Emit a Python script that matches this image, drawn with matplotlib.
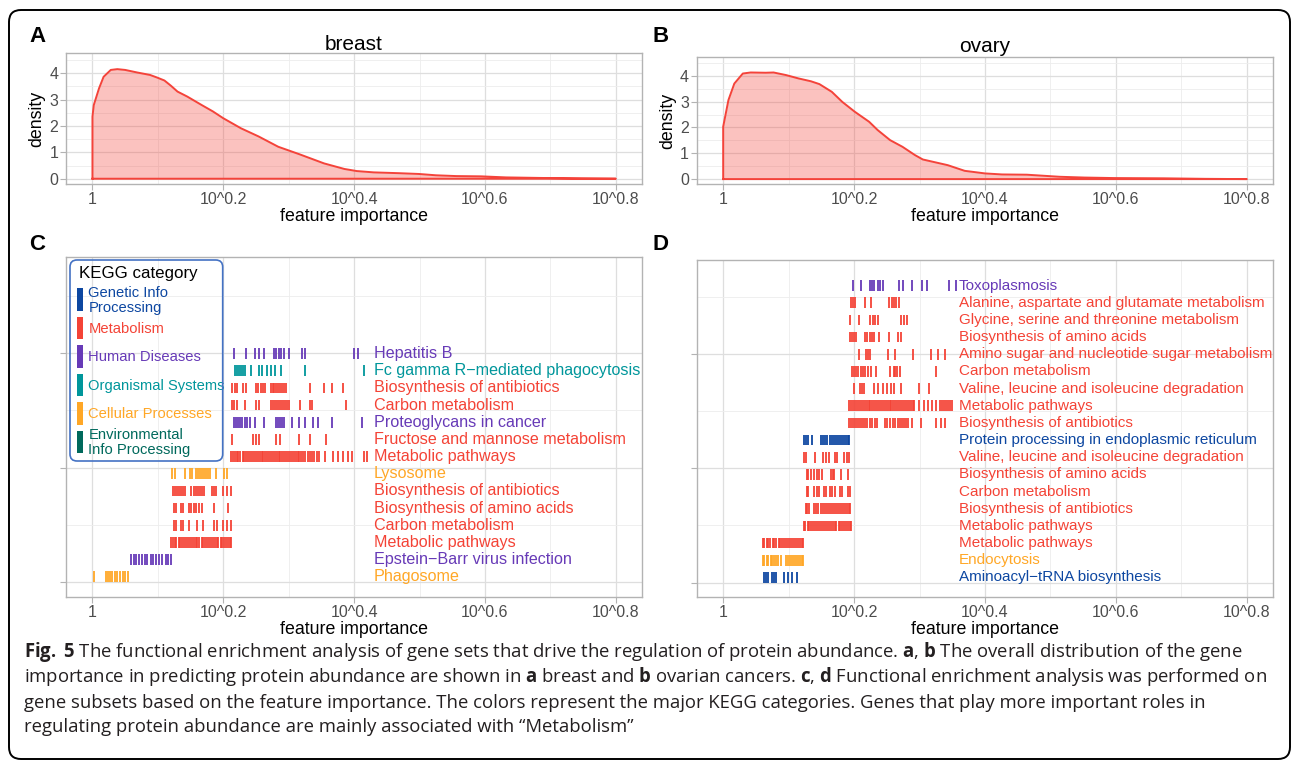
import numpy as np
import matplotlib
matplotlib.use("Agg")
import matplotlib.pyplot as plt
from matplotlib import font_manager as fm
from matplotlib.patches import FancyBboxPatch, Rectangle
from matplotlib.transforms import IdentityTransform
from matplotlib.ticker import FixedLocator, NullFormatter

W, H, DPI = 1295, 764, 100


def _weight_num(w):
    if isinstance(w, (int, float)):
        return int(w)
    return {"ultralight": 200, "light": 300, "normal": 400, "regular": 400, "book": 400,
            "medium": 500, "roman": 400, "semibold": 600, "demibold": 600, "demi": 600,
            "bold": 700, "heavy": 800, "extra bold": 800, "black": 900}.get(str(w).lower(), 400)


def _has(name, bold):
    for f in fm.fontManager.ttflist:
        if f.name == name:
            wn = _weight_num(f.weight)
            if (bold and wn >= 600) or (not bold and 350 <= wn <= 500):
                return True
    return False


def pick(cands):
    for c in cands:
        if _has(c, False) and _has(c, True):
            return c
    return "DejaVu Sans"


PLOT_FONT = pick(["Liberation Sans", "Arimo", "DejaVu Sans"])
CAP_FONT = pick(["Noto Sans", "Open Sans", "Lato", "Roboto", "Liberation Sans", "DejaVu Sans"])

plt.rcParams["font.family"] = [PLOT_FONT, "DejaVu Sans"]
plt.rcParams["mathtext.fontset"] = "custom"
plt.rcParams["mathtext.rm"] = CAP_FONT
plt.rcParams["mathtext.bf"] = CAP_FONT + ":bold"
plt.rcParams["mathtext.it"] = CAP_FONT + ":italic"

# ---------------- data (x values are log10 of feature importance) ----------------
x_major = [0.0, 0.2, 0.4, 0.6, 0.8]
x_minor = [0.1, 0.3, 0.5, 0.7]
x_tick_labels = ["1", "10^0.2", "10^0.4", "10^0.6", "10^0.8"]

breast_log = [0.000, 0.002, 0.010, 0.017, 0.028, 0.038, 0.050, 0.069, 0.088, 0.099, 0.110, 0.120,
              0.130, 0.145, 0.167, 0.184, 0.200, 0.227, 0.254, 0.284, 0.316, 0.354, 0.385, 0.404,
              0.430, 0.468, 0.499, 0.525, 0.556, 0.594, 0.632, 0.683, 0.747, 0.800]
breast_density = [2.35, 2.79, 3.42, 3.86, 4.12, 4.15, 4.12, 4.02, 3.93, 3.83, 3.72, 3.52,
                  3.30, 3.11, 2.79, 2.55, 2.29, 1.91, 1.60, 1.21, 0.93, 0.58, 0.37, 0.29,
                  0.24, 0.21, 0.18, 0.13, 0.10, 0.09, 0.05, 0.03, 0.01, 0.00]

ovary_log = [0.000, 0.008, 0.017, 0.030, 0.042, 0.065, 0.077, 0.096, 0.115, 0.134, 0.147, 0.166,
             0.182, 0.201, 0.223, 0.236, 0.255, 0.274, 0.293, 0.305, 0.324, 0.343, 0.369, 0.400,
             0.426, 0.464, 0.489, 0.514, 0.552, 0.597, 0.673, 0.736, 0.800]
ovary_density = [2.03, 3.06, 3.70, 4.09, 4.13, 4.12, 4.13, 4.03, 3.90, 3.79, 3.68, 3.38,
                 2.99, 2.61, 2.22, 1.90, 1.51, 1.25, 0.93, 0.76, 0.65, 0.54, 0.32, 0.22,
                 0.18, 0.17, 0.13, 0.09, 0.06, 0.04, 0.03, 0.01, 0.00]

categories = ["Genetic Info Processing", "Metabolism", "Human Diseases",
              "Organismal Systems", "Cellular Processes", "Environmental Info Processing"]
legend_labels = ["Genetic Info\nProcessing", "Metabolism", "Human Diseases",
                 "Organismal Systems", "Cellular Processes", "Environmental\nInfo Processing"]
category_colors = ["#0D47A1", "#F44336", "#673AB7", "#00969B", "#FFA726", "#00695C"]

# ---- panel C (breast), rows listed bottom -> top ----
c_phagosome = [0.002, 0.021, 0.024, 0.027, 0.030, 0.034, 0.038, 0.042, 0.046, 0.050, 0.054]
c_ebv = [0.059, 0.063, 0.067, 0.071, 0.076, 0.080, 0.084, 0.089, 0.093, 0.097, 0.102,
         0.106, 0.112, 0.116, 0.120]
c_metabolic_1 = [0.1198, 0.1224, 0.1257, 0.1281, 0.1316, 0.1342, 0.1371, 0.1403, 0.1428, 0.1462,
                 0.1489, 0.1521, 0.1548, 0.1577, 0.1604, 0.1633, 0.1667, 0.1692, 0.1724, 0.1751,
                 0.1779, 0.1812, 0.1838, 0.1869, 0.1897, 0.1926, 0.1958, 0.1985, 0.2013, 0.2044,
                 0.2071, 0.2098, 0.2121]
c_carbon_1 = [0.1242, 0.1272, 0.1349, 0.1389, 0.1471, 0.1598, 0.1690, 0.1858, 0.1903, 0.1990,
              0.2051, 0.2112]
c_aminoacids_1 = [0.1242, 0.1272, 0.1349, 0.1389, 0.1481, 0.1506, 0.1552, 0.1588, 0.1628, 0.1679,
                  0.1858, 0.2071]
c_antibiotics_1 = [0.1232, 0.1262, 0.1293, 0.1323, 0.1354, 0.1384, 0.1410, 0.1501, 0.1557, 0.1588,
                   0.1618, 0.1649, 0.1679, 0.1710, 0.1832, 0.1858, 0.1888, 0.1995, 0.2056, 0.2117]
c_lysosome = [0.1221, 0.1257, 0.1410, 0.1486, 0.1522, 0.1578, 0.1608, 0.1639, 0.1669, 0.1700,
              0.1730, 0.1761, 0.1791, 0.1883, 0.2015, 0.2051]
c_metabolic_2 = [0.2117, 0.2146, 0.2172, 0.2205, 0.2231, 0.2262, 0.2294, 0.2319, 0.2351, 0.2378,
                 0.2409, 0.2437, 0.2466, 0.2498, 0.2523, 0.2556, 0.2584, 0.2611, 0.2643, 0.2672,
                 0.2698, 0.2731, 0.2757, 0.2788, 0.2816, 0.2845, 0.2874, 0.2903, 0.2931, 0.2962,
                 0.2989, 0.3018, 0.3049, 0.3075, 0.3106, 0.3135, 0.3163, 0.3194, 0.3222, 0.3256,
                 0.3287, 0.3318, 0.3352, 0.3391, 0.3428, 0.3456, 0.3550, 0.3684, 0.3746, 0.3837,
                 0.3913, 0.3969, 0.4158, 0.4193]
c_fructose = [0.2132, 0.2448, 0.2494, 0.2539, 0.2809, 0.2870, 0.3155, 0.3318, 0.3567]
c_proteoglycans = [0.2163, 0.2193, 0.2224, 0.2254, 0.2290, 0.2326, 0.2361, 0.2407, 0.2489, 0.2621,
                   0.2804, 0.2835, 0.2865, 0.2896, 0.2926, 0.3053, 0.3155, 0.3242, 0.3364, 0.3445,
                   0.3659, 0.4127]
c_carbon_2 = [0.2132, 0.2168, 0.2209, 0.2336, 0.2504, 0.2545, 0.2728, 0.2758, 0.2789, 0.2819,
              0.2850, 0.2880, 0.2911, 0.2941, 0.2975, 0.3005, 0.3176, 0.3318, 0.3354, 0.3878]
c_antibiotics_2 = [0.2132, 0.2173, 0.2214, 0.2305, 0.2351, 0.2504, 0.2534, 0.2570, 0.2606, 0.2641,
                   0.2723, 0.2753, 0.2779, 0.2804, 0.2835, 0.2860, 0.2891, 0.2921, 0.2952, 0.3328,
                   0.3532, 0.3669, 0.3837]
c_fcgamma = [0.2173, 0.2204, 0.2234, 0.2265, 0.2295, 0.2331, 0.2422, 0.2540, 0.2595, 0.2672,
             0.2728, 0.2794, 0.2885, 0.3242, 0.4148]
c_hepatitis_b = [0.2163, 0.2346, 0.2478, 0.2540, 0.2616, 0.2774, 0.2809, 0.2845, 0.2885, 0.2926,
                 0.3003, 0.3201, 0.3252, 0.3995, 0.4066]

c_rows = [c_phagosome, c_ebv, c_metabolic_1, c_carbon_1, c_aminoacids_1, c_antibiotics_1,
          c_lysosome, c_metabolic_2, c_fructose, c_proteoglycans, c_carbon_2, c_antibiotics_2,
          c_fcgamma, c_hepatitis_b]
c_pathways = ["Phagosome", "Epstein\u2212Barr virus infection", "Metabolic pathways",
              "Carbon metabolism", "Biosynthesis of amino acids", "Biosynthesis of antibiotics",
              "Lysosome", "Metabolic pathways", "Fructose and mannose metabolism",
              "Proteoglycans in cancer", "Carbon metabolism", "Biosynthesis of antibiotics",
              "Fc gamma R\u2212mediated phagocytosis", "Hepatitis B"]
c_categories = ["Cellular Processes", "Human Diseases", "Metabolism", "Metabolism", "Metabolism",
                "Metabolism", "Cellular Processes", "Metabolism", "Metabolism", "Human Diseases",
                "Metabolism", "Metabolism", "Organismal Systems", "Human Diseases"]

# ---- panel D (ovary), rows listed bottom -> top ----
d_aminoacyl = [0.0621, 0.0651, 0.0682, 0.0743, 0.0774, 0.0804, 0.0931, 0.0997, 0.1059, 0.1125]
d_endocytosis = [0.0601, 0.0631, 0.0662, 0.0692, 0.0723, 0.0753, 0.0784, 0.0814, 0.0845, 0.0880,
                 0.0957, 0.0987, 0.1018, 0.1048, 0.1079, 0.1109, 0.1140, 0.1170, 0.1201, 0.1226]
d_metabolic_1 = [0.0603, 0.0631, 0.0664, 0.0692, 0.0721, 0.0755, 0.0783, 0.0812, 0.0846, 0.0871,
                 0.0903, 0.0934, 0.0962, 0.0991, 0.1024, 0.1051, 0.1083, 0.1112, 0.1141, 0.1172,
                 0.1198, 0.1224]
d_metabolic_2 = [0.1228, 0.1257, 0.1289, 0.1316, 0.1348, 0.1377, 0.1405, 0.1436, 0.1464, 0.1495,
                 0.1523, 0.1552, 0.1584, 0.1611, 0.1643, 0.1672, 0.1701, 0.1729, 0.1762, 0.1788,
                 0.1819, 0.1847, 0.1878, 0.1906, 0.1934, 0.1952]
d_antibiotics_1 = [0.1262, 0.1288, 0.1318, 0.1394, 0.1425, 0.1455, 0.1491, 0.1522, 0.1552, 0.1583,
                   0.1613, 0.1644, 0.1674, 0.1705, 0.1735, 0.1766, 0.1796, 0.1827, 0.1858, 0.1888,
                   0.1919, 0.1944]
d_carbon_1 = [0.1277, 0.1303, 0.1394, 0.1430, 0.1466, 0.1542, 0.1567, 0.1639, 0.1669, 0.1710,
              0.1786, 0.1822, 0.1903, 0.1939]
d_aminoacids_1 = [0.1277, 0.1303, 0.1338, 0.1394, 0.1430, 0.1466, 0.1506, 0.1644, 0.1674, 0.1700,
                  0.1796, 0.1913]
d_valine_1 = [0.1232, 0.1262, 0.1405, 0.1532, 0.1567, 0.1618, 0.1710, 0.1746, 0.1842, 0.1888,
              0.1929]
d_protein_er = [0.1237, 0.1262, 0.1293, 0.1359, 0.1496, 0.1527, 0.1557, 0.1588, 0.1628, 0.1659,
                0.1690, 0.1720, 0.1751, 0.1781, 0.1812, 0.1842, 0.1873, 0.1903, 0.1929]
d_antibiotics_2 = [0.1929, 0.1954, 0.1980, 0.2010, 0.2041, 0.2071, 0.2102, 0.2132, 0.2168, 0.2204,
                   0.2239, 0.2280, 0.2321, 0.2356, 0.2473, 0.2509, 0.2550, 0.2590, 0.2626, 0.2667,
                   0.2697, 0.2728, 0.2758, 0.2789, 0.2824, 0.2891, 0.3018, 0.3252, 0.3323, 0.3389]
d_metabolic_3 = [0.1929, 0.1957, 0.1986, 0.2018, 0.2044, 0.2075, 0.2103, 0.2134, 0.2162, 0.2191,
                 0.2223, 0.2249, 0.2281, 0.2309, 0.2338, 0.2369, 0.2395, 0.2427, 0.2456, 0.2484,
                 0.2513, 0.2545, 0.2571, 0.2602, 0.2631, 0.2659, 0.2691, 0.2718, 0.2749, 0.2777,
                 0.2806, 0.2836, 0.2864, 0.2893, 0.2921, 0.2997, 0.3064, 0.3130, 0.3191, 0.3257,
                 0.3318, 0.3349, 0.3379, 0.3410, 0.3440, 0.3471, 0.3496]
d_valine_2 = [0.2000, 0.2087, 0.2117, 0.2148, 0.2305, 0.2372, 0.2443, 0.2504, 0.2565, 0.2606,
              0.2712, 0.2992, 0.3145]
d_carbon_2 = [0.1975, 0.2005, 0.2036, 0.2066, 0.2102, 0.2132, 0.2173, 0.2209, 0.2260, 0.2341,
              0.2545, 0.2606, 0.2631, 0.2662, 0.2697, 0.3252]
d_aminosugar = [0.2081, 0.2188, 0.2214, 0.2239, 0.2524, 0.2621, 0.2896, 0.3181, 0.3288, 0.3384]
d_aminoacids_2 = [0.1934, 0.1964, 0.1995, 0.2025, 0.2168, 0.2198, 0.2239, 0.2275, 0.2310, 0.2377,
                  0.2539, 0.2672, 0.2712]
d_glycine = [0.1939, 0.2081, 0.2244, 0.2285, 0.2326, 0.2361, 0.2718, 0.2758, 0.2809]
d_alanine = [0.1949, 0.1980, 0.2010, 0.2168, 0.2260, 0.2539, 0.2575, 0.2606, 0.2641, 0.2692]
d_toxoplasmosis = [0.1990, 0.2102, 0.2239, 0.2275, 0.2305, 0.2366, 0.2402, 0.2443, 0.2682, 0.2743,
                   0.2891, 0.3038, 0.3120, 0.3455, 0.3552]

d_rows = [d_aminoacyl, d_endocytosis, d_metabolic_1, d_metabolic_2, d_antibiotics_1, d_carbon_1,
          d_aminoacids_1, d_valine_1, d_protein_er, d_antibiotics_2, d_metabolic_3, d_valine_2,
          d_carbon_2, d_aminosugar, d_aminoacids_2, d_glycine, d_alanine, d_toxoplasmosis]
d_pathways = ["Aminoacyl\u2212tRNA biosynthesis", "Endocytosis", "Metabolic pathways",
              "Metabolic pathways", "Biosynthesis of antibiotics", "Carbon metabolism",
              "Biosynthesis of amino acids", "Valine, leucine and isoleucine degradation",
              "Protein processing in endoplasmic reticulum", "Biosynthesis of antibiotics",
              "Metabolic pathways", "Valine, leucine and isoleucine degradation",
              "Carbon metabolism", "Amino sugar and nucleotide sugar metabolism",
              "Biosynthesis of amino acids", "Glycine, serine and threonine metabolism",
              "Alanine, aspartate and glutamate metabolism", "Toxoplasmosis"]
d_categories = ["Genetic Info Processing", "Cellular Processes", "Metabolism", "Metabolism",
                "Metabolism", "Metabolism", "Metabolism", "Metabolism", "Genetic Info Processing",
                "Metabolism", "Metabolism", "Metabolism", "Metabolism", "Metabolism", "Metabolism",
                "Metabolism", "Metabolism", "Human Diseases"]

caption_lines = [
    r"$\mathbf{Fig.}$ $\mathbf{5}$ The functional enrichment analysis of gene sets that drive the regulation "
    r"of protein abundance. $\mathbf{a}$, $\mathbf{b}$ The overall distribution of the gene",
    r"importance in predicting protein abundance are shown in $\mathbf{a}$ breast and "
    r"$\mathbf{b}$ ovarian cancers. $\mathbf{c}$, $\mathbf{d}$ Functional enrichment analysis was performed on",
    "gene subsets based on the feature importance. The colors represent the major KEGG "
    "categories. Genes that play more important roles in",
    "regulating protein abundance are mainly associated with \u201cMetabolism\u201d",
]

# ---------------- styling ----------------
RED = "#F4433A"
GRID_MAJ = "#DEDEDE"
GRID_MIN = "#EDEDED"
BORDER = "#B3B3B3"
TICKLAB = "#4D4D4D"
ROW_STEP = 0.15
TICK_H = 0.093
cat_color = dict(zip(categories, category_colors))

fig = plt.figure(figsize=(W / DPI, H / DPI), dpi=DPI)
fig.patch.set_facecolor("white")


def box(x0, y0, x1, y1):
    return [x0 / W, 1 - y1 / H, (x1 - x0) / W, (y1 - y0) / H]


def fxy(x, y):
    return x / W, 1 - y / H


def style(ax, ylim, ymaj, ymin, ylabels):
    ax.set_xscale("log")
    ax.set_xlim(10 ** -0.04, 10 ** 0.84)
    ax.xaxis.set_major_locator(FixedLocator(10 ** np.array(x_major)))
    ax.set_xticklabels(x_tick_labels)
    ax.xaxis.set_minor_locator(FixedLocator(10 ** np.array(x_minor)))
    ax.xaxis.set_minor_formatter(NullFormatter())
    ax.set_ylim(*ylim)
    ax.yaxis.set_major_locator(FixedLocator(ymaj))
    ax.yaxis.set_minor_locator(FixedLocator(ymin))
    if not ylabels:
        ax.set_yticklabels([])
    ax.grid(which="major", color=GRID_MAJ, lw=0.9)
    ax.grid(which="minor", color=GRID_MIN, lw=0.6)
    ax.set_axisbelow(True)
    ax.tick_params(which="major", length=4, width=0.8, color=BORDER, labelcolor=TICKLAB,
                   labelsize=11.5, pad=1.8)
    ax.tick_params(which="minor", length=0)
    for s in ax.spines.values():
        s.set_color(BORDER)
        s.set_linewidth(1.0)
    ax.set_xlabel("feature importance", fontsize=12.8, labelpad=0.5)


def draw_density(ax, logs, dens):
    x = 10 ** np.asarray(logs)
    y = np.asarray(dens)
    ax.fill_between(x, 0, y, color=RED, alpha=0.32, linewidth=0)
    ax.plot(np.r_[x[0], x, x[-1], x[0]], np.r_[0, y, 0, 0], color=RED, lw=1.4,
            solid_joinstyle="round")


def draw_rows(ax, rows, labels, cats, label_x, fsize):
    for i, (vals, lab, cat) in enumerate(zip(rows, labels, cats)):
        base = ROW_STEP * i
        col = cat_color[cat]
        ax.vlines(10 ** np.asarray(vals), base, base + TICK_H, colors=col, linewidth=1.3)
        ax.text(10 ** label_x, base + TICK_H / 2, lab, color=col, fontsize=fsize,
                ha="left", va="center", clip_on=True)


# Panel A
axA = fig.add_axes(box(66.3, 53.3, 642, 184))
style(axA, (-0.2, 4.75), [0, 1, 2, 3, 4], [0.5, 1.5, 2.5, 3.5, 4.5], True)
draw_density(axA, breast_log, breast_density)
axA.set_ylabel("density", fontsize=12.8, labelpad=3)

# Panel B
axB = fig.add_axes(box(697, 57, 1273, 184))
style(axB, (-0.19, 4.73), [0, 1, 2, 3, 4], [0.5, 1.5, 2.5, 3.5, 4.5], True)
draw_density(axB, ovary_log, ovary_density)
axB.set_ylabel("density", fontsize=12.8, labelpad=3)

# Panel C
axC = fig.add_axes(box(66.3, 257, 642, 597))
style(axC, (-0.13, 2.84), [0, 1, 2], [0.5, 1.5, 2.5], False)
draw_rows(axC, c_rows, c_pathways, c_categories, 0.4296, 11.6)

# Panel D
axD = fig.add_axes(box(697, 260, 1273, 597))
style(axD, (-0.125, 2.82), [0, 1, 2], [0.5, 1.5, 2.5], False)
draw_rows(axD, d_rows, d_pathways, d_categories, 0.3603, 11.0)

# titles and panel letters
fig.text(*fxy(354, 44), "breast", fontsize=15, ha="center", va="center")
fig.text(*fxy(985, 46), "ovary", fontsize=15, ha="center", va="center")
for letter, (lx, ly) in zip("ABCD", [(37, 36), (661, 36), (37, 244), (660, 244)]):
    fig.text(*fxy(lx, ly), letter, fontsize=16, fontweight="bold", ha="center", va="center")

# legend (panel C) drawn in pixel space
leg_box = FancyBboxPatch((70, H - 461), 152.7, 201, boxstyle="round,pad=0,rounding_size=7",
                         transform=IdentityTransform(), fill=False, ec="#4472C4", lw=1.2,
                         zorder=5)
fig.add_artist(leg_box)
fig.text(*fxy(78.7, 273.5), "KEGG category", fontsize=12.2, ha="left", va="center", color="black")
for k, (lab, col) in enumerate(zip(legend_labels, category_colors)):
    yc = 299.7 + 28.45 * k
    x0, y0 = fxy(77.2, yc + 11.3)
    fig.add_artist(Rectangle((x0, y0), 5.6 / W, 22.6 / H, transform=fig.transFigure,
                             facecolor=col, edgecolor="none", zorder=5))
    fig.text(*fxy(88.3, yc + 0.8), lab, fontsize=10.6, color=col, ha="left", va="center",
             linespacing=1.12)

# outer rounded frame
frame = FancyBboxPatch((9, H - 759), 1281, 749, boxstyle="round,pad=0,rounding_size=12",
                       transform=IdentityTransform(), fill=False, ec="black", lw=1.4, zorder=6)
fig.add_artist(frame)

# caption
cap_family = [CAP_FONT, "DejaVu Sans"]
renderer = fig.canvas.get_renderer()
probe = fig.text(0, 0, caption_lines[0], fontsize=11, family=cap_family)
w = probe.get_window_extent(renderer).width
probe.remove()
cap_size = 11 * 1219.0 / w
for j, line in enumerate(caption_lines):
    fig.text(*fxy(24.5, 657.5 + 25 * j), line, fontsize=cap_size, family=cap_family,
             ha="left", va="baseline", color="#231F20")

fig.savefig("out.png", dpi=DPI, facecolor="white")
